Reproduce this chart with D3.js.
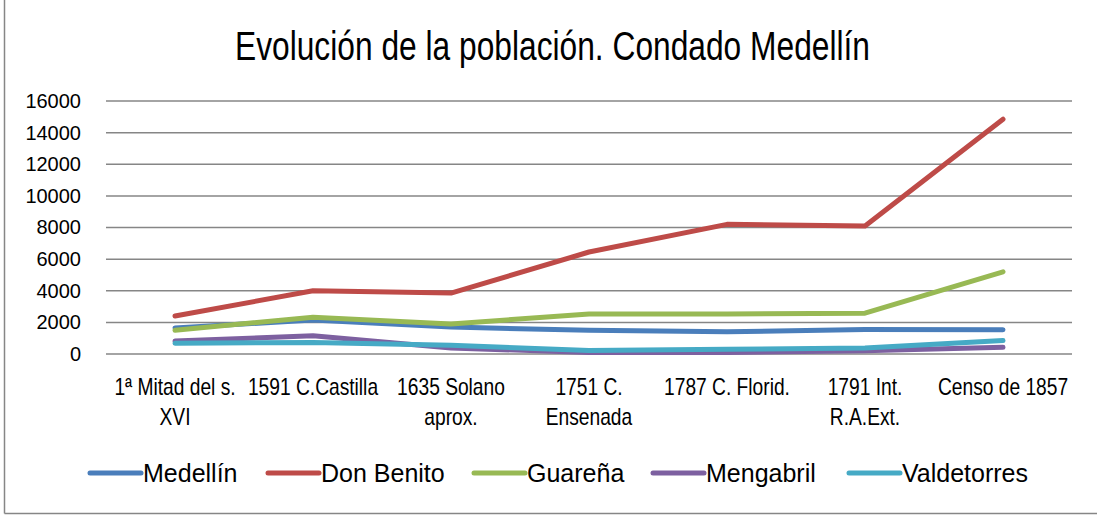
<!DOCTYPE html>
<html>
<head>
<meta charset="utf-8">
<script src="https://d3js.org/d3.v7.min.js"></script>
<style>
  html, body { margin: 0; padding: 0; background: #fff; }
  svg { display: block; }
  text { font-family: "Liberation Sans", Arial, sans-serif; }
</style>
</head>
<body>
<div id="chart"></div>
<script>
var categories = [
  ["1ª Mitad del s.", "XVI"],
  ["1591 C.Castilla"],
  ["1635 Solano", "aprox."],
  ["1751 C.", "Ensenada"],
  ["1787 C. Florid."],
  ["1791 Int.", "R.A.Ext."],
  ["Censo de 1857"]
];
var seriesNames = ["Medellín", "Don Benito", "Guareña", "Mengabril", "Valdetorres"];
var colors = ["#4a7ebb", "#be4b48", "#98b954", "#7d60a0", "#46aac5"];
var medellin    = [1650, 2150, 1700, 1500, 1400, 1550, 1530];
var donBenito   = [2400, 4000, 3850, 6450, 8200, 8100, 14850];
var guarena     = [1500, 2330, 1900, 2530, 2530, 2580, 5200];
var mengabril   = [820, 1150, 380, 100, 100, 200, 420];
var valdetorres = [680, 730, 550, 220, 300, 380, 850];
var yTicks = [0, 2000, 4000, 6000, 8000, 10000, 12000, 14000, 16000];

var allSeries = [medellin, donBenito, guarena, mengabril, valdetorres];

var W = 1097, H = 517;
var svg = d3.select("#chart").append("svg").attr("width", W).attr("height", H);

// frame (only left and bottom edges are visible)
svg.append("line").attr("x1", 4.5).attr("x2", 4.5).attr("y1", 0).attr("y2", 513.5)
  .attr("stroke", "#868686").attr("stroke-width", 1.5);
svg.append("line").attr("x1", 4.5).attr("x2", W).attr("y1", 513.5).attr("y2", 513.5)
  .attr("stroke", "#868686").attr("stroke-width", 1.5);

svg.append("text")
  .attr("x", 235).attr("y", 60)
  .attr("font-size", 41)
  .attr("textLength", 635)
  .attr("lengthAdjust", "spacingAndGlyphs")
  .attr("fill", "#000")
  .text("Evolución de la población. Condado Medellín");

var x = d3.scaleBand().domain(d3.range(categories.length)).range([106, 1072]);
var y = d3.scaleLinear().domain([0, 16000]).range([354, 101]);

// gridlines
svg.append("g").selectAll("line").data(yTicks).enter().append("line")
  .attr("x1", 106).attr("x2", 1072)
  .attr("y1", function(d) { return y(d); }).attr("y2", function(d) { return y(d); })
  .attr("stroke", "#868686").attr("stroke-width", 1.5);

// y axis labels
var yAxis = d3.axisLeft(y).tickValues(yTicks).tickSize(0).tickPadding(0).tickFormat(d3.format("d"));
var ya = svg.append("g").attr("transform", "translate(81,0)").call(yAxis);
ya.select(".domain").remove();
ya.selectAll("text").attr("font-size", 20).attr("font-family", null).attr("fill", "#000");

// category labels (squeezed to mimic the condensed face)
var xl = svg.append("g").selectAll("text").data(categories).enter().append("text")
  .attr("text-anchor", "middle")
  .attr("font-size", 24)
  .attr("fill", "#000")
  .attr("transform", function(d, i) { return "translate(" + (x(i) + x.bandwidth() / 2) + ",395) scale(0.8,1)"; });
xl.selectAll("tspan").data(function(d) { return d; }).enter().append("tspan")
  .attr("x", 0).attr("dy", function(d, i) { return i === 0 ? 0 : 30; })
  .text(function(d) { return d; });

// lines
var line = d3.line()
  .x(function(d, i) { return x(i) + x.bandwidth() / 2; })
  .y(function(d) { return y(d); });

allSeries.forEach(function(s, k) {
  svg.append("path").datum(s)
    .attr("d", line)
    .attr("fill", "none")
    .attr("stroke", colors[k])
    .attr("stroke-width", 5)
    .attr("stroke-linejoin", "round")
    .attr("stroke-linecap", "round");
});

// legend
var legendX = [88, 266, 472, 651, 847];
var lg = svg.append("g").selectAll("g").data(seriesNames).enter().append("g")
  .attr("transform", function(d, i) { return "translate(" + legendX[i] + ",473)"; });
lg.append("line").attr("x1", 2).attr("x2", 53).attr("y1", 0).attr("y2", 0)
  .attr("stroke", function(d, i) { return colors[i]; })
  .attr("stroke-width", 5).attr("stroke-linecap", "round");
lg.append("text")
  .attr("x", 55).attr("y", 9)
  .attr("font-size", 25).attr("fill", "#000")
  .text(function(d) { return d; });
</script>
</body>
</html>
